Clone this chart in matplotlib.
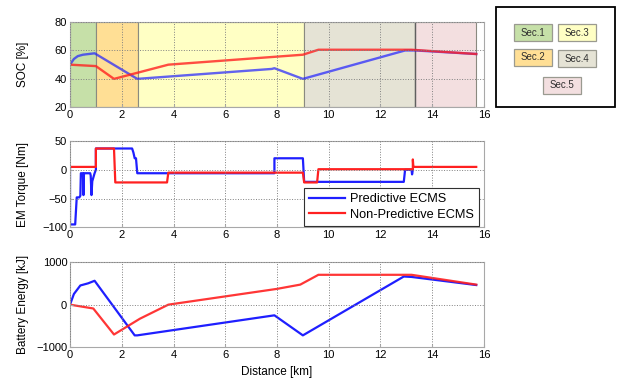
import matplotlib
matplotlib.use("Agg")
import matplotlib.pyplot as plt
from matplotlib.patches import Rectangle

plt.rcParams["font.family"] = ["Liberation Sans", "DejaVu Sans"]
plt.rcParams["font.size"] = 8

# route sections: start, end, fill colour
sec_names = ["Sec.1", "Sec.2", "Sec.3", "Sec.4", "Sec.5"]
sec_start = [0.0, 1.0, 2.62, 9.03, 13.35]
sec_end = [1.0, 2.62, 9.03, 13.35, 15.7]
sec_colors = ["#c6e0a8", "#ffdf95", "#ffffc4", "#e5e3d5", "#f3dfe0"]

# SOC [%]
soc_pred_x = [0, 0.15, 0.3, 0.5, 0.95, 2.6, 7.8, 7.9, 9.0, 12.95, 13.35, 15.7]
soc_pred_y = [50, 54, 56, 57, 58, 40, 47, 47.5, 40, 60, 60, 57.5]
soc_np_x = [0, 0.5, 1.0, 1.7, 3.8, 9.0, 9.6, 13.2, 15.7]
soc_np_y = [50, 49.5, 49, 40, 50, 57, 60.5, 60.5, 57.5]

# EM torque [Nm]
trq_pred_x = [0, 0, 0.2, 0.26, 0.36, 0.40, 0.42, 0.50, 0.52, 0.54, 0.58, 0.78,
              0.80, 0.83, 0.86, 0.95, 1.0, 1.0, 2.4, 2.45, 2.5, 2.55, 2.6,
              7.9, 7.9, 9.0, 9.05, 12.9, 12.95, 13.2, 13.22, 13.25]
trq_pred_y = [5, -95, -95, -48, -48, -45, -6, -6, -44, -6, -6, -6,
              -10, -44, -20, -6, 0, 37, 37, 30, 20, 20, -6,
              -6, 20, 20, -21, -21, 0, 0, -8, 0]
trq_np_x = [0, 1.0, 1.0, 1.7, 1.75, 3.75, 3.8, 9.0, 9.05, 9.55, 9.6,
            13.25, 13.25, 13.27, 13.3, 15.7]
trq_np_y = [5, 5, 37, 37, -22, -22, -5, -5, -22, -22, 1,
            1, 18, 5, 5, 5]

# battery energy [kJ]
bat_pred_x = [0, 0.15, 0.4, 0.7, 0.95, 2.5, 2.6, 7.9, 9.0, 12.9, 13.2, 15.7]
bat_pred_y = [0, 250, 450, 500, 560, -720, -720, -250, -720, 660, 650, 460]
bat_np_x = [0, 0.9, 1.7, 2.7, 3.8, 8.0, 8.9, 9.6, 13.2, 15.7]
bat_np_y = [0, -90, -700, -330, 0, 370, 470, 700, 700, 470]

blue = "#1f1fff"
red = "#ff2020"

fig = plt.figure(figsize=(6.19, 3.83), dpi=100)
left, width = 0.1131, 0.6688
ax1 = fig.add_axes([left, 0.7198, width, 0.2227])
ax2 = fig.add_axes([left, 0.4065, width, 0.2253])
ax3 = fig.add_axes([left, 0.0932, width, 0.2227])

for ax in (ax1, ax2, ax3):
    ax.set_xlim(0, 16)
    ax.set_xticks([0, 2, 4, 6, 8, 10, 12, 14, 16])
    ax.grid(True, linestyle=":", color="#808080", linewidth=0.7)
    ax.set_axisbelow(False)
    for s in ax.spines.values():
        s.set_color("#a8a8a8")
    ax.tick_params(direction="in", length=2.5, color="#a8a8a8",
                   labelsize=8, pad=2)

for s0, s1, c in zip(sec_start, sec_end, sec_colors):
    ax1.axvspan(s0, s1, facecolor=c, edgecolor="#8a8a80", linewidth=0.8, zorder=0)
ax1.axvline(sec_end[3], color="#606060", linewidth=1.0, zorder=1)

ax1.plot(soc_pred_x, soc_pred_y, color=blue, lw=1.7, alpha=0.7)
ax1.plot(soc_np_x, soc_np_y, color=red, lw=1.7, alpha=0.8)
ax1.set_ylim(20, 80)
ax1.set_yticks([20, 40, 60, 80])
ax1.set_ylabel("SOC [%]", fontsize=8.5)

ax2.plot(trq_pred_x, trq_pred_y, color=blue, lw=1.6, label="Predictive ECMS")
ax2.plot(trq_np_x, trq_np_y, color=red, lw=1.6, label="Non-Predictive ECMS")
ax2.set_ylim(-100, 50)
ax2.set_yticks([-100, -50, 0, 50])
ax2.set_ylabel("EM Torque [Nm]", fontsize=8.5)
leg = ax2.legend(loc="lower right", bbox_to_anchor=(0.988, 0.015), fontsize=9.2,
                 fancybox=False, framealpha=1, edgecolor="#303030",
                 handlelength=2.8, borderaxespad=0.0, borderpad=0.4,
                 labelspacing=0.3, handletextpad=0.4)
leg.get_frame().set_linewidth(0.8)

ax3.plot(bat_pred_x, bat_pred_y, color=blue, lw=1.6)
ax3.plot(bat_np_x, bat_np_y, color=red, lw=1.6, alpha=0.9)
ax3.set_ylim(-1000, 1000)
ax3.set_yticks([-1000, 0, 1000])
ax3.set_ylabel("Battery Energy [kJ]", fontsize=8.5)
ax3.set_xlabel("Distance [km]", fontsize=8.5, labelpad=4)

for ax in (ax1, ax2, ax3):
    ax.yaxis.set_label_coords(-0.1, 0.5)

# section key box
W, H = 619.0, 383.0
fig.add_artist(Rectangle((496 / W, 1 - 107 / H), 119 / W, 100 / H,
                         transform=fig.transFigure, fill=False,
                         edgecolor="black", linewidth=1.3))
key_pos = [(514, 24), (514, 49), (558, 24), (558, 50), (543, 77)]
for name, c, (px, py) in zip(sec_names, sec_colors, key_pos):
    fig.add_artist(Rectangle((px / W, 1 - (py + 17) / H), 38 / W, 17 / H,
                             transform=fig.transFigure, facecolor=c,
                             edgecolor="#9a9a90", linewidth=0.9))
    fig.text((px + 19) / W, 1 - (py + 8.5) / H, name, ha="center",
             va="center", fontsize=7, color="#303030")

fig.savefig("out.png", dpi=100)
